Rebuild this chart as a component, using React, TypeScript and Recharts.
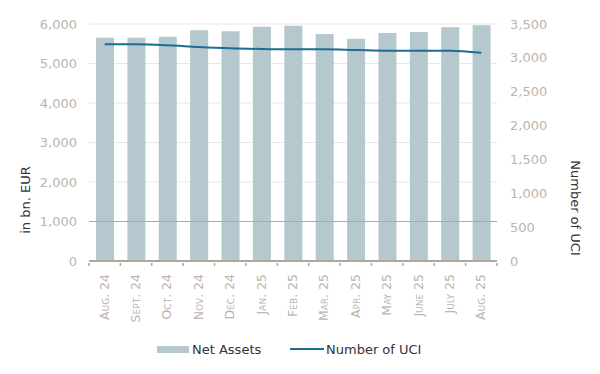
import { ComposedChart, Bar, Line, XAxis, YAxis, CartesianGrid, Legend, ReferenceLine } from "recharts";

const months = ["Aug. 24", "Sept. 24", "Oct. 24", "Nov. 24", "Dec. 24", "Jan. 25", "Feb. 25", "Mar. 25", "Apr. 25", "May 25", "June 25", "July 25", "Aug. 25"];
const netAssets = [5650, 5650, 5680, 5840, 5815, 5930, 5957, 5747, 5628, 5772, 5797, 5915, 5967];
const numberOfUci = [3200, 3200, 3186, 3160, 3141, 3131, 3126, 3126, 3116, 3106, 3106, 3106, 3076];
const leftTicks = [0, 1000, 2000, 3000, 4000, 5000, 6000];
const rightTicks = [0, 500, 1000, 1500, 2000, 2500, 3000, 3500];

const data = months.map((m, i) => ({ month: m, assets: netAssets[i], uci: numberOfUci[i] }));

const FONT = "'DejaVu Sans', Verdana, sans-serif";
const BAR = "#b5c8cd";
const LINE = "#1d6c92";
const AXIS = "#b2a697";
const TICK = "#bdb5ad";

const fmt = (v: number) => v.toLocaleString("en-US");

const XTick = (props: any) => {
  const { x, y, payload, index } = props;
  const half = payload?.offset || 15.7;
  const tx = x + 4;
  const ty = y + 11;
  return (
    <g>
      <line x1={x - half} x2={x - half} y1={y} y2={y + 3} stroke={AXIS} strokeWidth={1.5} />
      {index === months.length - 1 && (
        <line x1={x + half} x2={x + half} y1={y} y2={y + 3} stroke={AXIS} strokeWidth={1.5} />
      )}
      <text
        x={tx}
        y={ty}
        transform={`rotate(-90, ${tx}, ${ty})`}
        textAnchor="end"
        fill={TICK}
        fontSize={12.5}
        fontFamily={FONT}
        style={{ fontVariant: "small-caps" }}
      >
        {payload.value}
      </text>
    </g>
  );
};

const LegendContent = () => (
  <div style={{ display: "flex", alignItems: "center", fontFamily: FONT, fontSize: 13, color: "#333", paddingLeft: 157, height: 16 }}>
    <div style={{ display: "flex", alignItems: "center", width: 133 }}>
      <span style={{ display: "inline-block", width: 32, height: 7, background: BAR, marginRight: 3 }} />
      <span>Net Assets</span>
    </div>
    <div style={{ display: "flex", alignItems: "center" }}>
      <span style={{ display: "inline-block", width: 34, height: 2, background: LINE, marginRight: 2 }} />
      <span>Number of UCI</span>
    </div>
  </div>
);

export default function App() {
  return (
    <div style={{ position: "absolute", left: 0, top: 0, width: 600, height: 374, background: "#fff" }}>
      <ComposedChart width={600} height={374} data={data} margin={{ top: 24, right: 0, bottom: 3, left: 0 }} barCategoryGap={0}>
        <CartesianGrid vertical={false} stroke="#e8e8e8" yAxisId="left" />
        <XAxis
          dataKey="month"
          height={80}
          tick={<XTick />}
          tickLine={false}
          tickSize={0}
          interval={0}
          axisLine={{ stroke: AXIS, strokeWidth: 2 }}
        />
        <YAxis
          yAxisId="left"
          width={89}
          domain={[0, 6000]}
          ticks={leftTicks}
          tickFormatter={fmt}
          axisLine={false}
          tickLine={false}
          tickSize={0}
          tickMargin={12}
          tick={{ fill: TICK, fontSize: 13, fontFamily: FONT }}
          label={() => (
            <text x={30} y={200} transform="rotate(-90, 30, 200)" textAnchor="middle" fill="#333" fontSize={13} fontFamily={FONT}>
              in bn. EUR
            </text>
          )}
        />
        <YAxis
          yAxisId="right"
          orientation="right"
          width={103}
          domain={[0, 3500]}
          ticks={rightTicks}
          tickFormatter={fmt}
          axisLine={false}
          tickLine={false}
          tickSize={0}
          tickMargin={13}
          tick={{ fill: TICK, fontSize: 13, fontFamily: FONT, textAnchor: "start" }}
          label={() => (
            <text x={571} y={208} transform="rotate(90, 571, 208)" textAnchor="middle" fill="#333" fontSize={13} fontFamily={FONT}>
              Number of UCI
            </text>
          )}
        />
        <Bar yAxisId="left" dataKey="assets" name="Net Assets" fill={BAR} barSize={18} isAnimationActive={false} />
        <ReferenceLine yAxisId="left" y={1000} stroke="#a3adb0" strokeWidth={1} />
        <Line
          yAxisId="right"
          type="monotone"
          dataKey="uci"
          name="Number of UCI"
          stroke={LINE}
          strokeWidth={2}
          dot={false}
          isAnimationActive={false}
        />
        <Legend verticalAlign="bottom" height={30} content={<LegendContent />} />
      </ComposedChart>
    </div>
  );
}
